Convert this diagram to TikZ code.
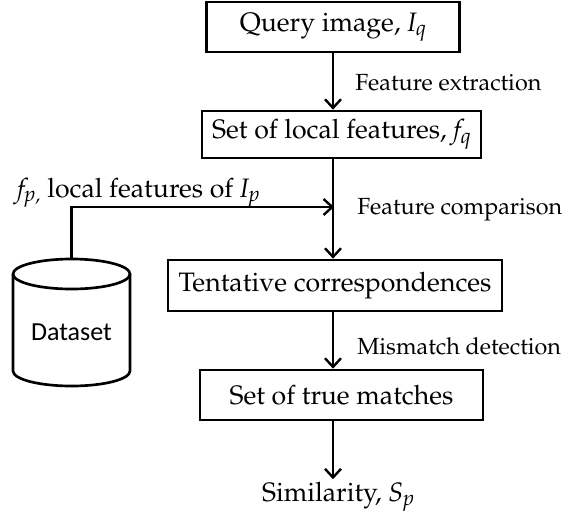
\documentclass[tikz,border=0pt]{standalone}
\usepackage[T1]{fontenc}
\usepackage{fontspec}
\usepackage{graphicx}
\usetikzlibrary{arrows.meta,positioning}

\newfontfamily\dbfont{Carlito}
\newcommand\palfont{\fontencoding{T1}\fontfamily{ppl}\selectfont}
% italic symbol with a small lowered index, e.g. I q
\newcommand\symidx[2]{\textit{#1\raisebox{-.35ex}{\scalebox{.8}{#2}}}}

\begin{document}
\begin{tikzpicture}[
  x=0.75pt, y=-0.75pt,
  font={\palfont\fontsize{20}{24}\selectfont},
  stage/.style={draw, line width=2pt, align=center, inner sep=0pt},
  steplabel/.style={anchor=west, inner sep=0pt, font={\palfont\fontsize{17.5}{21}\selectfont}},
  flow/.style={-{Straight Barb[length=6.5pt, width=12pt, line width=1.8pt]}, line width=2pt},
  dbline/.style={line width=2pt}
]
\useasboundingbox (0,0) rectangle (577,521);

\node[stage, minimum width=189.75pt, minimum height=37.5pt] (query) at (333,27)
  {Query image, \symidx{I}{q}};
\node[stage, minimum width=209.25pt, minimum height=35.25pt] (feat) at (341.5,134.5)
  {Set of local features, \symidx{f}{q}};
\node[stage, minimum width=250.5pt, minimum height=38.25pt] (tent) at (335,285.5)
  {Tentative correspondences};
\node[stage, minimum width=212.25pt, minimum height=37.5pt] (true) at (341.5,395)
  {Set of true matches};
\node[inner sep=2pt] (sim) at (338,497) {Similarity, \symidx{S}{p}};

\node[steplabel] (lextr) at (355,83) {Feature extraction};
\node[steplabel] (lcomp) at (357,210) {Feature comparison};
\node[steplabel] (lmism) at (357,346) {Mismatch detection};

% dataset drum
\draw[dbline] (13,274) -- (13,371) arc[start angle=180, end angle=360, x radius=43.875pt, y radius=11.25pt] -- (130,274);
\draw[dbline] (71.5,274) ellipse[x radius=43.875pt, y radius=11.25pt];
\coordinate (dbtop) at (71.5,260);
\node[font={\dbfont\fontsize{19.5}{23}\selectfont}] (data) at (71.5,332) {Dataset};

\node[anchor=base west, inner sep=0pt] (lfp) at (17,197)
  {\symidx{f}{p,} local features of \symidx{I}{p}};
\coordinate (meet) at (334,207);

\draw[flow] (query.south -| 333,0) -- (feat.north -| 333,0);
\draw[flow] (feat.south -| 333,0) -- (tent.north -| 333,0);
\draw[flow] (tent.south -| 333,0) -- (true.north -| 333,0);
\draw[flow] (true.south -| 333,0) -- (sim.north -| 333,0);
\draw[flow] (dbtop) |- (meet);

\end{tikzpicture}
\end{document}
